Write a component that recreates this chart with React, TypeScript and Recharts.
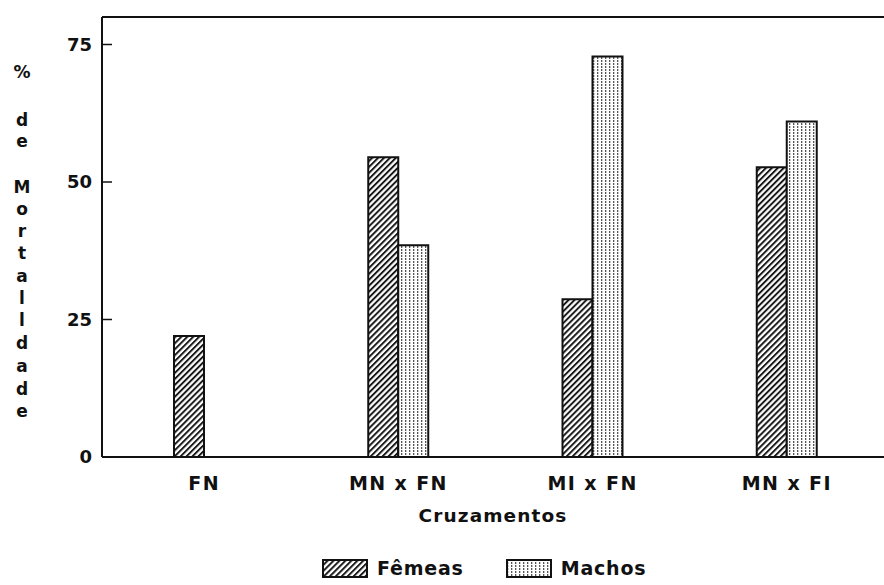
import React from "react";
import {
  Bar,
  BarChart,
  Label,
  Legend,
  ReferenceLine,
  XAxis,
  YAxis,
} from "recharts";

const categories = ["FN", "MN x FN", "MI x FN", "MN x FI"];
const femeas = [22, 54.5, 28.7, 52.7];
const machos: (number | null)[] = [null, 38.5, 72.8, 61];
const yTicks = [0, 25, 50, 75];
const yTitle = ["%", "d", "e", "M", "o", "r", "t", "a", "l", "l", "d", "a", "d", "e"];

const data = categories.map((name, i) => ({
  name,
  femeas: femeas[i],
  machos: machos[i],
}));

const FONT = "'DejaVu Sans', sans-serif";
const TITLE_Y = [72, 120, 141, 187, 209, 231, 253, 276, 298, 320, 343, 366, 389, 411];

function Patterns() {
  return (
    <svg width={0} height={0} style={{ position: "absolute" }}>
      <defs>
        <pattern
          id="hatch"
          patternUnits="userSpaceOnUse"
          width={4.2}
          height={4.2}
          patternTransform="rotate(45)"
        >
          <rect x={0} y={0} width={4.2} height={4.2} fill="#fff" />
          <line x1={1} y1={0} x2={1} y2={4.2} stroke="#111" strokeWidth={1.9} />
        </pattern>
        <pattern id="stipple" patternUnits="userSpaceOnUse" width={4} height={3}>
          <rect x={0} y={0} width={4} height={3} fill="#fff" />
          <rect x={1} y={0} width={1.3} height={2} fill="#555" />
        </pattern>
      </defs>
    </svg>
  );
}

function YTick({ x, y, payload }: any) {
  return (
    <g>
      <line x1={x} y1={y} x2={x + 10} y2={y} stroke="#111" strokeWidth={1.5} />
      <text
        x={x - 10}
        y={y}
        dy={6}
        textAnchor="end"
        fontFamily={FONT}
        fontWeight="bold"
        fontSize={18}
        fill="#111"
      >
        {payload.value}
      </text>
    </g>
  );
}

function XTick({ x, y, payload }: any) {
  return (
    <text
      x={x}
      y={y}
      dy={33}
      textAnchor="middle"
      fontFamily={FONT}
      fontWeight="bold"
      fontSize={19}
      letterSpacing={1.4}
      fill="#111"
    >
      {payload.value}
    </text>
  );
}

function YTitle() {
  return (
    <g>
      {yTitle.map((ch, i) => (
        <text
          key={i}
          x={22}
          y={TITLE_Y[i]}
          dy={6}
          textAnchor="middle"
          fontFamily={FONT}
          fontWeight="bold"
          fontSize={17}
          fill="#111"
        >
          {ch}
        </text>
      ))}
    </g>
  );
}

function XTitle({ viewBox }: any) {
  return (
    <text
      x={viewBox.x + viewBox.width / 2}
      y={522}
      textAnchor="middle"
      fontFamily={FONT}
      fontWeight="bold"
      fontSize={18.5}
      letterSpacing={1.1}
      fill="#111"
    >
      Cruzamentos
    </text>
  );
}

function LegendBox() {
  const item = (fill: string, label: string, gap: number) => (
    <div style={{ display: "flex", alignItems: "center", marginRight: gap }}>
      <svg width={46} height={19}>
        <rect x={1} y={1} width={44} height={17} fill={fill} stroke="#111" strokeWidth={2} />
      </svg>
      <span
        style={{
          marginLeft: 9,
          fontFamily: FONT,
          fontWeight: "bold",
          fontSize: 19,
          letterSpacing: 0.8,
          color: "#111",
        }}
      >
        {label}
      </span>
    </div>
  );
  return (
    <div style={{ display: "flex", alignItems: "center", height: 30 }}>
      {item("url(#hatch)", "Fêmeas", 42)}
      {item("url(#stipple)", "Machos", 0)}
    </div>
  );
}

export default function App() {
  return (
    <div style={{ position: "absolute", left: 0, top: 0, width: 884, height: 585, background: "#fff" }}>
      <Patterns />
      <BarChart
        width={884}
        height={585}
        data={data}
        margin={{ top: 17, right: 0, left: 22, bottom: 28 }}
        barSize={30}
        barGap={0}
      >
        <XAxis
          dataKey="name"
          height={70}
          padding={{ left: 5, right: 0 }}
          axisLine={{ stroke: "#111", strokeWidth: 2 }}
          tickLine={false}
          tickSize={0}
          tickMargin={0}
          tick={<XTick />}
        >
          <Label content={<XTitle />} />
        </XAxis>
        <YAxis
          width={80}
          domain={[0, 80]}
          ticks={yTicks}
          axisLine={{ stroke: "#111", strokeWidth: 2 }}
          tickLine={false}
          tickSize={0}
          tickMargin={0}
          tick={<YTick />}
        >
          <Label content={<YTitle />} />
        </YAxis>
        <ReferenceLine y={80} stroke="#111" strokeWidth={2} />
        <Legend
          verticalAlign="bottom"
          content={<LegendBox />}
          wrapperStyle={{ left: 322, bottom: 2, width: 360 }}
        />
        <Bar
          dataKey="femeas"
          name="Fêmeas"
          fill="url(#hatch)"
          stroke="#111"
          strokeWidth={2}
          isAnimationActive={false}
        />
        <Bar
          dataKey="machos"
          name="Machos"
          fill="url(#stipple)"
          stroke="#111"
          strokeWidth={2}
          isAnimationActive={false}
        />
      </BarChart>
    </div>
  );
}
